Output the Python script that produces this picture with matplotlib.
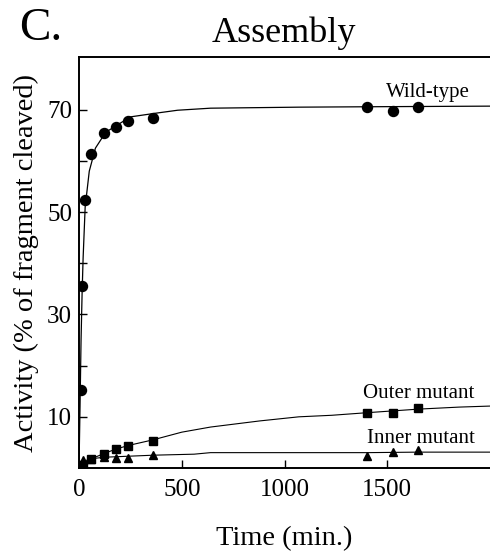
import matplotlib
matplotlib.use("Agg")
import matplotlib.pyplot as plt
from matplotlib.ticker import FixedLocator

plt.rcParams['font.family'] = ['Liberation Serif', 'DejaVu Serif']

# measured points
wt_t = [10, 15, 30, 60, 120, 180, 240, 360, 1400, 1530, 1650]
wt_y = [15.2, 35.5, 52.3, 61.4, 65.4, 66.6, 67.8, 68.4, 70.5, 69.7, 70.5]

outer_t = [20, 60, 120, 180, 240, 360, 1400, 1530, 1650]
outer_y = [0.6, 1.8, 2.8, 3.8, 4.3, 5.2, 10.7, 10.7, 11.7]

inner_t = [20, 60, 120, 180, 240, 360, 1400, 1530, 1650]
inner_y = [1.5, 1.7, 2.1, 2.0, 2.0, 2.5, 2.3, 3.1, 3.5]

# fitted curves
wt_fit_t = [0, 5, 10, 15, 20, 30, 50, 80, 130, 250, 370, 480, 640, 1070, 1500, 2000]
wt_fit_y = [0, 12, 25, 34, 41, 51, 58, 62.5, 65.6, 68.6, 69.3, 69.9, 70.3, 70.5, 70.6, 70.7]

outer_fit_t = [0, 20, 60, 120, 180, 240, 360, 500, 640, 880, 1070, 1230, 1400, 1650, 1850, 2000]
outer_fit_y = [0, 0.7, 1.8, 2.8, 3.7, 4.4, 5.5, 7.0, 8.0, 9.2, 10.0, 10.3, 10.8, 11.5, 11.9, 12.1]

inner_fit_t = [0, 20, 60, 120, 240, 360, 560, 640, 1000, 1400, 1650, 2000]
inner_fit_y = [0, 1.3, 1.8, 2.1, 2.3, 2.5, 2.7, 3.0, 3.0, 3.0, 3.1, 3.1]

y_major = [10, 30, 50, 70]
y_minor = [20, 40, 60]
x_major = [0, 500, 1000, 1500]

fig = plt.figure(figsize=(4.9, 5.52), dpi=100)
ax = fig.add_axes([79 / 490, 84 / 552, 411 / 490, 411 / 552])

ax.plot(wt_fit_t, wt_fit_y, color='black', lw=0.9)
ax.plot(outer_fit_t, outer_fit_y, color='black', lw=0.8)
ax.plot(inner_fit_t, inner_fit_y, color='black', lw=0.8)

ax.plot(wt_t, wt_y, 'o', color='black', ms=7.2)
ax.plot(outer_t, outer_y, 's', color='black', ms=5.6)
ax.plot(inner_t, inner_y, '^', color='black', ms=5.2)

ax.text(1700, 73.4, 'Wild-type', fontsize=15, ha='center', va='center')
ax.text(1655, 14.6, 'Outer mutant', fontsize=15, ha='center', va='center')
ax.text(1665, 5.7, 'Inner mutant', fontsize=15, ha='center', va='center')

ax.set_xlim(0, 2000)
ax.set_ylim(0, 80.3)
ax.xaxis.set_major_locator(FixedLocator(x_major))
ax.yaxis.set_major_locator(FixedLocator(y_major))
ax.yaxis.set_minor_locator(FixedLocator(y_minor))
ax.tick_params(which='both', direction='in', length=6, width=1, labelsize=18)
ax.tick_params(axis='x', pad=8)
ax.tick_params(axis='y', pad=5)

ax.spines['right'].set_visible(False)
for s in ['left', 'bottom', 'top']:
    ax.spines[s].set_linewidth(1.4)

ax.set_xlabel('Time (min.)', fontsize=20.5, labelpad=18)
ax.set_ylabel('Activity (% of fragment cleaved)', fontsize=20.5, labelpad=6)

fig.text(284 / 490, 1 - 33 / 552, 'Assembly', fontsize=26, ha='center', va='center')
fig.text(19 / 490, 1 - 29 / 552, 'C.', fontsize=34, ha='left', va='center')

fig.savefig('out.png', dpi=100)
